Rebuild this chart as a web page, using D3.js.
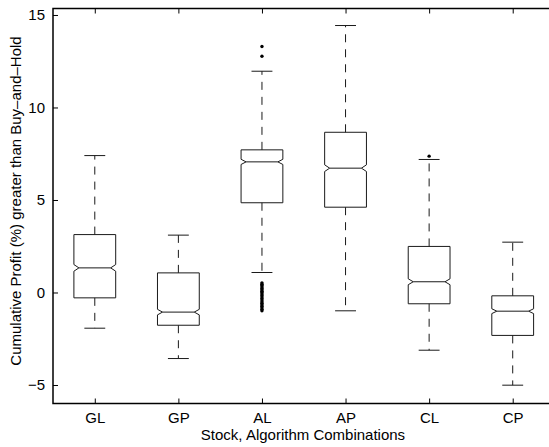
<!DOCTYPE html>
<html><head><meta charset="utf-8">
<script src="https://cdn.jsdelivr.net/npm/d3@7"></script>
<style>
html,body{margin:0;padding:0;background:#fff;}
svg{display:block;}
text{font-family:"Liberation Sans",Arial,Helvetica,sans-serif;fill:#000;}
</style></head><body>
<svg id="chart" width="549" height="447"></svg>
<script>
const categories = ["GL","GP","AL","AP","CL","CP"];
const whiskerLow  = [-1.93, -3.57, 1.08, -0.99, -3.12, -5.01];
const q1          = [-0.29, -1.77, 4.85, 4.61, -0.61, -2.32];
const median      = [1.33, -1.06, 7.06, 6.72, 0.58, -1.01];
const q3          = [3.13, 1.06, 7.71, 8.66, 2.49, -0.18];
const whiskerHigh = [7.40, 3.10, 11.96, 14.43, 7.19, 2.72];
const notchHalf   = [0.18, 0.15, 0.14, 0.18, 0.16, 0.13];
const outliers = [
  {cat:"AL", values:[13.30, 12.77, 0.52, 0.45, 0.38, 0.30, 0.22, 0.15, 0.07, 0.0, -0.08, -0.16, -0.25, -0.33, -0.41, -0.50, -0.58, -0.66, -0.74, -0.83, -0.91, -0.99]},
  {cat:"CL", values:[7.37]}
];
const yTicks = [-5, 0, 5, 10, 15];
const xLabel = "Stock, Algorithm Combinations";
const yLabel = "Cumulative Profit (%) greater than Buy\u2013and\u2013Hold";

(function(){
const svg = d3.select("#chart");
const L = 53, R = 554.5, T = 8.5, B = 403.5;
const x = d3.scaleLinear().domain([0.5, 6.5]).range([L, R]);
const y = d3.scaleLinear().domain([-6, 15.35]).range([B, T]);
const boxW = x(1.25) - x(1);   // half width
const capW = x(1.125) - x(1);
const lineCol = "#1a1a1a";
const fs = 15;

const g = svg.append("g");

categories.forEach((c, i) => {
  const cx = x(i + 1);
  const bg = g.append("g");
  bg.append("line").attr("x1", cx).attr("x2", cx)
    .attr("y1", y(q3[i])).attr("y2", y(whiskerHigh[i]))
    .attr("stroke", lineCol).attr("stroke-width", 1).attr("stroke-dasharray", "8,7");
  bg.append("line").attr("x1", cx).attr("x2", cx)
    .attr("y1", y(q1[i])).attr("y2", y(whiskerLow[i]))
    .attr("stroke", lineCol).attr("stroke-width", 1).attr("stroke-dasharray", "8,7");
  [whiskerHigh[i], whiskerLow[i]].forEach(v => {
    bg.append("line").attr("x1", cx - capW).attr("x2", cx + capW)
      .attr("y1", y(v)).attr("y2", y(v))
      .attr("stroke", lineCol).attr("stroke-width", 1);
  });
  const l = cx - boxW, r = cx + boxW, ins = boxW * 0.24;
  const nl = Math.max(median[i] - notchHalf[i], q1[i]);
  const nh = Math.min(median[i] + notchHalf[i], q3[i]);
  const pts = [
    [l, y(q1[i])], [l, y(nl)], [l + ins, y(median[i])], [l, y(nh)], [l, y(q3[i])],
    [r, y(q3[i])], [r, y(nh)], [r - ins, y(median[i])], [r, y(nl)], [r, y(q1[i])]
  ];
  bg.append("path").attr("d", d3.line()(pts) + "Z")
    .attr("fill", "none").attr("stroke", lineCol).attr("stroke-width", 1);
  bg.append("line").attr("x1", l + ins).attr("x2", r - ins)
    .attr("y1", y(median[i])).attr("y2", y(median[i]))
    .attr("stroke", lineCol).attr("stroke-width", 1);
});

outliers.forEach(o => {
  const cx = x(categories.indexOf(o.cat) + 1);
  g.selectAll(null).data(o.values).enter().append("circle")
    .attr("cx", cx).attr("cy", d => y(d)).attr("r", 1.7).attr("fill", "#000");
});

svg.append("rect").attr("x", L).attr("y", T)
  .attr("width", R - L).attr("height", B - T)
  .attr("fill", "none").attr("stroke", "#000").attr("stroke-width", 1.5);

const yAxis = d3.axisLeft(y).tickValues(yTicks).tickSize(-5).tickPadding(8).tickFormat(d3.format("d"));
const ya = svg.append("g").attr("transform", `translate(${L},0)`).call(yAxis);
ya.select(".domain").remove();
ya.selectAll("line").attr("stroke", "#000");
ya.selectAll("text").attr("font-size", fs).text(d => d < 0 ? "\u2212" + Math.abs(d) : d);

const yr = svg.append("g").attr("transform", `translate(${R},0)`)
  .call(d3.axisRight(y).tickValues(yTicks).tickSize(-5).tickFormat(""));
yr.select(".domain").remove();

const xAxis = d3.axisBottom(x).tickValues(d3.range(1, 7)).tickSize(-5).tickPadding(9)
  .tickFormat(d => categories[d - 1]);
const xa = svg.append("g").attr("transform", `translate(0,${B})`).call(xAxis);
xa.select(".domain").remove();
xa.selectAll("line").attr("stroke", "#000");
xa.selectAll("text").attr("font-size", fs);

const xt = svg.append("g").attr("transform", `translate(0,${T})`)
  .call(d3.axisTop(x).tickValues(d3.range(1, 7)).tickSize(-5).tickFormat(""));
xt.select(".domain").remove();

svg.append("text").attr("x", 303).attr("y", 440)
  .attr("text-anchor", "middle").attr("font-size", fs).text(xLabel);
svg.append("text").attr("transform", `translate(21,${(T + B) / 2 - 5}) rotate(-90)`)
  .attr("text-anchor", "middle").attr("font-size", fs).text(yLabel);
})();
</script>
</body></html>
